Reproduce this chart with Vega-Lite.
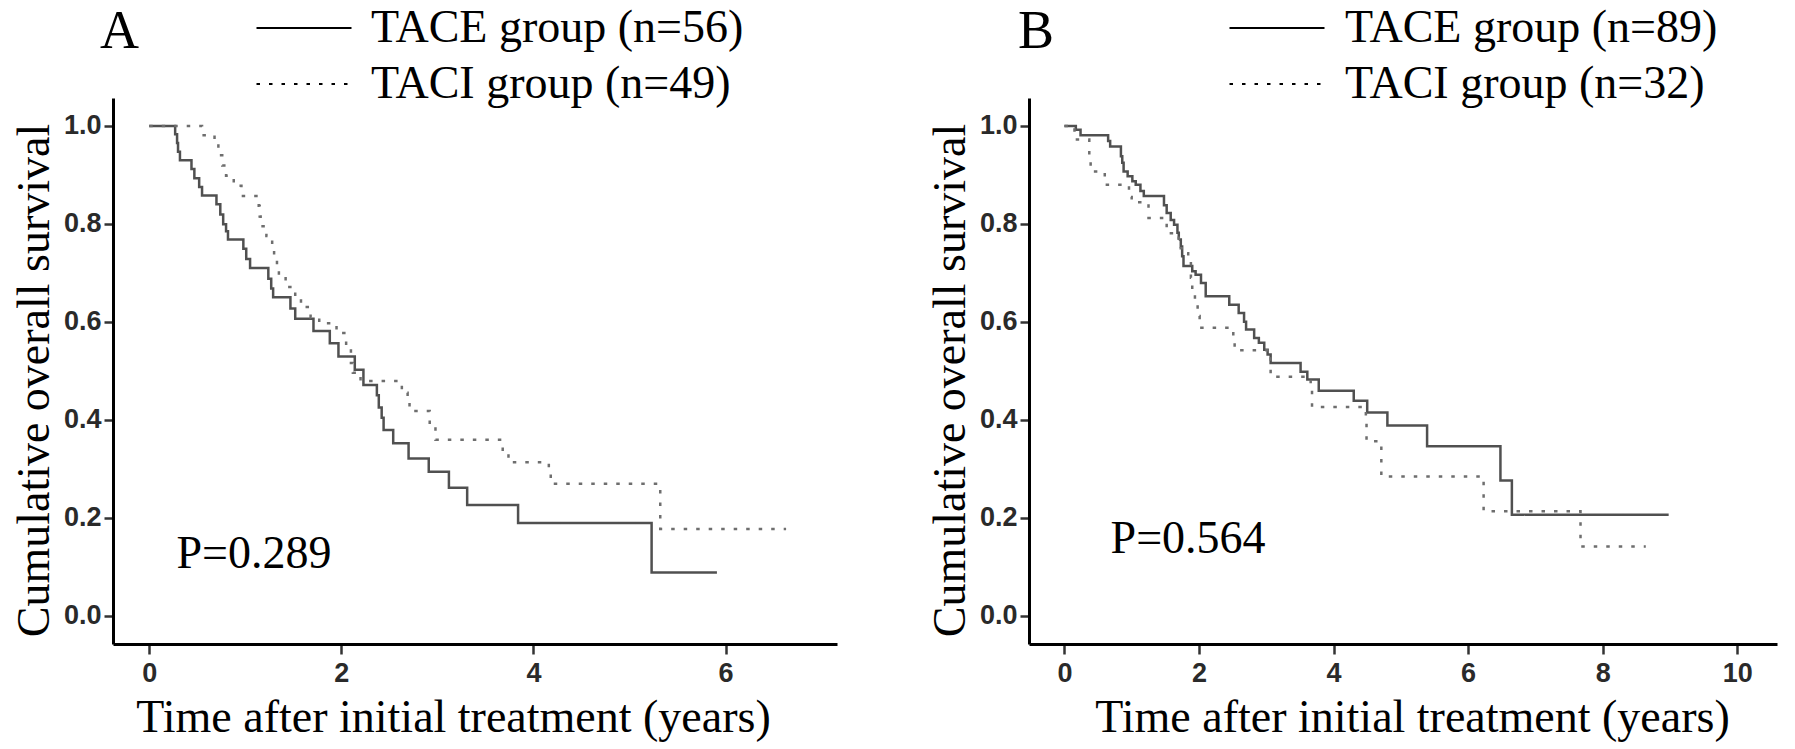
{
  "$schema": "https://vega.github.io/schema/vega-lite/v6.json",
  "background": "white",
  "padding": {"left": 11, "top": 5, "right": 4, "bottom": 2},
  "spacing": 90,
  "config": {
    "view": {"stroke": null},
    "axis": {
      "domainColor": "#000000",
      "domainWidth": 3,
      "tickColor": "#333333",
      "tickWidth": 2.5,
      "grid": false,
      "labelFont": "Liberation Sans",
      "labelFontSize": 27,
      "labelFontWeight": "bold",
      "labelColor": "#2a2a2a",
      "titleFont": "Liberation Serif",
      "titleFontSize": 46,
      "titleFontWeight": "normal",
      "titleColor": "#000000"
    },
    "axisX": {"tickSize": 10, "labelPadding": 6, "titlePadding": 9},
    "axisY": {"tickSize": 9, "labelPadding": 3, "titlePadding": 5},
    "title": {"font": "Liberation Serif", "fontSize": 54, "fontWeight": "normal", "color": "#000000", "anchor": "start", "frame": "group"}
  },
  "datasets": {
    "panelA": [
      {"group": "TACE group (n=56)", "t": 0, "S": 1},
      {"group": "TACE group (n=56)", "t": 0.27, "S": 0.983},
      {"group": "TACE group (n=56)", "t": 0.29, "S": 0.965},
      {"group": "TACE group (n=56)", "t": 0.30, "S": 0.947},
      {"group": "TACE group (n=56)", "t": 0.32, "S": 0.930},
      {"group": "TACE group (n=56)", "t": 0.44, "S": 0.912},
      {"group": "TACE group (n=56)", "t": 0.47, "S": 0.893},
      {"group": "TACE group (n=56)", "t": 0.52, "S": 0.875},
      {"group": "TACE group (n=56)", "t": 0.55, "S": 0.858},
      {"group": "TACE group (n=56)", "t": 0.70, "S": 0.840},
      {"group": "TACE group (n=56)", "t": 0.74, "S": 0.819},
      {"group": "TACE group (n=56)", "t": 0.77, "S": 0.799},
      {"group": "TACE group (n=56)", "t": 0.80, "S": 0.785},
      {"group": "TACE group (n=56)", "t": 0.82, "S": 0.768},
      {"group": "TACE group (n=56)", "t": 0.98, "S": 0.749},
      {"group": "TACE group (n=56)", "t": 1.01, "S": 0.728},
      {"group": "TACE group (n=56)", "t": 1.05, "S": 0.710},
      {"group": "TACE group (n=56)", "t": 1.24, "S": 0.688},
      {"group": "TACE group (n=56)", "t": 1.27, "S": 0.668},
      {"group": "TACE group (n=56)", "t": 1.29, "S": 0.650},
      {"group": "TACE group (n=56)", "t": 1.47, "S": 0.627},
      {"group": "TACE group (n=56)", "t": 1.52, "S": 0.606},
      {"group": "TACE group (n=56)", "t": 1.71, "S": 0.581},
      {"group": "TACE group (n=56)", "t": 1.88, "S": 0.556},
      {"group": "TACE group (n=56)", "t": 1.97, "S": 0.529},
      {"group": "TACE group (n=56)", "t": 2.14, "S": 0.502},
      {"group": "TACE group (n=56)", "t": 2.23, "S": 0.471},
      {"group": "TACE group (n=56)", "t": 2.37, "S": 0.450},
      {"group": "TACE group (n=56)", "t": 2.39, "S": 0.425},
      {"group": "TACE group (n=56)", "t": 2.42, "S": 0.404},
      {"group": "TACE group (n=56)", "t": 2.44, "S": 0.379},
      {"group": "TACE group (n=56)", "t": 2.54, "S": 0.352},
      {"group": "TACE group (n=56)", "t": 2.70, "S": 0.321},
      {"group": "TACE group (n=56)", "t": 2.91, "S": 0.294},
      {"group": "TACE group (n=56)", "t": 3.12, "S": 0.261},
      {"group": "TACE group (n=56)", "t": 3.31, "S": 0.226},
      {"group": "TACE group (n=56)", "t": 3.84, "S": 0.189},
      {"group": "TACE group (n=56)", "t": 5.23, "S": 0.088},
      {"group": "TACE group (n=56)", "t": 5.91, "S": 0.088},
      {"group": "TACI group (n=49)", "t": 0, "S": 1},
      {"group": "TACI group (n=49)", "t": 0.55, "S": 0.981},
      {"group": "TACI group (n=49)", "t": 0.68, "S": 0.960},
      {"group": "TACI group (n=49)", "t": 0.72, "S": 0.940},
      {"group": "TACI group (n=49)", "t": 0.76, "S": 0.919},
      {"group": "TACI group (n=49)", "t": 0.80, "S": 0.898},
      {"group": "TACI group (n=49)", "t": 0.88, "S": 0.878},
      {"group": "TACI group (n=49)", "t": 0.96, "S": 0.857},
      {"group": "TACI group (n=49)", "t": 1.14, "S": 0.837},
      {"group": "TACI group (n=49)", "t": 1.15, "S": 0.815},
      {"group": "TACI group (n=49)", "t": 1.16, "S": 0.795},
      {"group": "TACI group (n=49)", "t": 1.22, "S": 0.775},
      {"group": "TACI group (n=49)", "t": 1.28, "S": 0.754},
      {"group": "TACI group (n=49)", "t": 1.30, "S": 0.733},
      {"group": "TACI group (n=49)", "t": 1.33, "S": 0.712},
      {"group": "TACI group (n=49)", "t": 1.35, "S": 0.692},
      {"group": "TACI group (n=49)", "t": 1.42, "S": 0.671},
      {"group": "TACI group (n=49)", "t": 1.52, "S": 0.650},
      {"group": "TACI group (n=49)", "t": 1.58, "S": 0.630},
      {"group": "TACI group (n=49)", "t": 1.68, "S": 0.609},
      {"group": "TACI group (n=49)", "t": 1.77, "S": 0.597},
      {"group": "TACI group (n=49)", "t": 1.95, "S": 0.577},
      {"group": "TACI group (n=49)", "t": 2.05, "S": 0.546},
      {"group": "TACI group (n=49)", "t": 2.10, "S": 0.516},
      {"group": "TACI group (n=49)", "t": 2.12, "S": 0.496},
      {"group": "TACI group (n=49)", "t": 2.20, "S": 0.479},
      {"group": "TACI group (n=49)", "t": 2.63, "S": 0.455},
      {"group": "TACI group (n=49)", "t": 2.69, "S": 0.442},
      {"group": "TACI group (n=49)", "t": 2.71, "S": 0.418},
      {"group": "TACI group (n=49)", "t": 2.92, "S": 0.389},
      {"group": "TACI group (n=49)", "t": 2.98, "S": 0.359},
      {"group": "TACI group (n=49)", "t": 3.68, "S": 0.334},
      {"group": "TACI group (n=49)", "t": 3.74, "S": 0.313},
      {"group": "TACI group (n=49)", "t": 4.16, "S": 0.293},
      {"group": "TACI group (n=49)", "t": 4.18, "S": 0.269},
      {"group": "TACI group (n=49)", "t": 5.32, "S": 0.177},
      {"group": "TACI group (n=49)", "t": 6.63, "S": 0.177}
    ],
    "panelB": [
      {"group": "TACE group (n=89)", "t": 0, "S": 1},
      {"group": "TACE group (n=89)", "t": 0.17, "S": 0.992},
      {"group": "TACE group (n=89)", "t": 0.24, "S": 0.981},
      {"group": "TACE group (n=89)", "t": 0.65, "S": 0.969},
      {"group": "TACE group (n=89)", "t": 0.68, "S": 0.958},
      {"group": "TACE group (n=89)", "t": 0.84, "S": 0.938},
      {"group": "TACE group (n=89)", "t": 0.86, "S": 0.925},
      {"group": "TACE group (n=89)", "t": 0.88, "S": 0.907},
      {"group": "TACE group (n=89)", "t": 0.94, "S": 0.897},
      {"group": "TACE group (n=89)", "t": 1.01, "S": 0.887},
      {"group": "TACE group (n=89)", "t": 1.06, "S": 0.880},
      {"group": "TACE group (n=89)", "t": 1.13, "S": 0.867},
      {"group": "TACE group (n=89)", "t": 1.18, "S": 0.857},
      {"group": "TACE group (n=89)", "t": 1.48, "S": 0.838},
      {"group": "TACE group (n=89)", "t": 1.52, "S": 0.822},
      {"group": "TACE group (n=89)", "t": 1.58, "S": 0.808},
      {"group": "TACE group (n=89)", "t": 1.63, "S": 0.798},
      {"group": "TACE group (n=89)", "t": 1.68, "S": 0.782},
      {"group": "TACE group (n=89)", "t": 1.70, "S": 0.768},
      {"group": "TACE group (n=89)", "t": 1.73, "S": 0.754},
      {"group": "TACE group (n=89)", "t": 1.75, "S": 0.734},
      {"group": "TACE group (n=89)", "t": 1.77, "S": 0.714},
      {"group": "TACE group (n=89)", "t": 1.90, "S": 0.703},
      {"group": "TACE group (n=89)", "t": 1.95, "S": 0.696},
      {"group": "TACE group (n=89)", "t": 2.03, "S": 0.679},
      {"group": "TACE group (n=89)", "t": 2.10, "S": 0.652},
      {"group": "TACE group (n=89)", "t": 2.45, "S": 0.635},
      {"group": "TACE group (n=89)", "t": 2.59, "S": 0.618},
      {"group": "TACE group (n=89)", "t": 2.67, "S": 0.600},
      {"group": "TACE group (n=89)", "t": 2.70, "S": 0.584},
      {"group": "TACE group (n=89)", "t": 2.82, "S": 0.567},
      {"group": "TACE group (n=89)", "t": 2.89, "S": 0.557},
      {"group": "TACE group (n=89)", "t": 2.97, "S": 0.543},
      {"group": "TACE group (n=89)", "t": 3.02, "S": 0.533},
      {"group": "TACE group (n=89)", "t": 3.065, "S": 0.516},
      {"group": "TACE group (n=89)", "t": 3.51, "S": 0.498},
      {"group": "TACE group (n=89)", "t": 3.61, "S": 0.482},
      {"group": "TACE group (n=89)", "t": 3.78, "S": 0.459},
      {"group": "TACE group (n=89)", "t": 4.30, "S": 0.439},
      {"group": "TACE group (n=89)", "t": 4.50, "S": 0.415},
      {"group": "TACE group (n=89)", "t": 4.80, "S": 0.388},
      {"group": "TACE group (n=89)", "t": 5.39, "S": 0.346},
      {"group": "TACE group (n=89)", "t": 6.48, "S": 0.276},
      {"group": "TACE group (n=89)", "t": 6.65, "S": 0.206},
      {"group": "TACE group (n=89)", "t": 8.98, "S": 0.206},
      {"group": "TACI group (n=32)", "t": 0, "S": 1},
      {"group": "TACI group (n=32)", "t": 0.15, "S": 0.972},
      {"group": "TACI group (n=32)", "t": 0.37, "S": 0.940},
      {"group": "TACI group (n=32)", "t": 0.39, "S": 0.907},
      {"group": "TACI group (n=32)", "t": 0.60, "S": 0.880},
      {"group": "TACI group (n=32)", "t": 0.96, "S": 0.855},
      {"group": "TACI group (n=32)", "t": 1.00, "S": 0.844},
      {"group": "TACI group (n=32)", "t": 1.25, "S": 0.812},
      {"group": "TACI group (n=32)", "t": 1.52, "S": 0.781},
      {"group": "TACI group (n=32)", "t": 1.70, "S": 0.750},
      {"group": "TACI group (n=32)", "t": 1.78, "S": 0.740},
      {"group": "TACI group (n=32)", "t": 1.84, "S": 0.723},
      {"group": "TACI group (n=32)", "t": 1.88, "S": 0.690},
      {"group": "TACI group (n=32)", "t": 1.90, "S": 0.659},
      {"group": "TACI group (n=32)", "t": 1.94, "S": 0.635},
      {"group": "TACI group (n=32)", "t": 1.98, "S": 0.612},
      {"group": "TACI group (n=32)", "t": 2.01, "S": 0.588},
      {"group": "TACI group (n=32)", "t": 2.51, "S": 0.563},
      {"group": "TACI group (n=32)", "t": 2.53, "S": 0.542},
      {"group": "TACI group (n=32)", "t": 3.065, "S": 0.488},
      {"group": "TACI group (n=32)", "t": 3.66, "S": 0.460},
      {"group": "TACI group (n=32)", "t": 3.68, "S": 0.426},
      {"group": "TACI group (n=32)", "t": 4.48, "S": 0.395},
      {"group": "TACI group (n=32)", "t": 4.49, "S": 0.356},
      {"group": "TACI group (n=32)", "t": 4.71, "S": 0.284},
      {"group": "TACI group (n=32)", "t": 6.23, "S": 0.213},
      {"group": "TACI group (n=32)", "t": 7.67, "S": 0.141},
      {"group": "TACI group (n=32)", "t": 8.64, "S": 0.141}
    ]
  },
  "hconcat": [
    {
      "width": 724,
      "height": 546,
      "title": {"text": "A", "dx": -13, "offset": -54},
      "layer": [
        {
          "data": {"name": "panelA"},
          "mark": {"type": "line", "interpolate": "step-after", "strokeWidth": 2.5},
          "encoding": {
            "x": {"field": "t", "type": "quantitative", "scale": {"domain": [-0.377, 7.16], "nice": false, "zero": false},
                  "axis": {"values": [0, 2, 4, 6], "format": "d", "title": "Time after initial treatment (years)", "titleX": 340}},
            "y": {"field": "S", "type": "quantitative", "scale": {"domain": [-0.058, 1.057], "nice": false, "zero": false},
                  "axis": {"values": [0, 0.2, 0.4, 0.6, 0.8, 1], "format": ".1f", "title": "Cumulative overall survival", "titleY": 282}},
            "color": {"field": "group", "type": "nominal", "scale": {"range": ["#505050", "#6e6e6e"]}, "legend": null},
            "strokeDash": {"field": "group", "type": "nominal",
              "scale": {"domain": ["TACE group (n=56)", "TACI group (n=49)"], "range": [[1, 0], [3.5, 9]]},
              "legend": {"title": null, "orient": "none", "legendX": 168, "legendY": -93, "padding": 0,
                "labelFont": "Liberation Serif", "labelFontSize": 46, "labelColor": "#000000", "labelLimit": 0,
                "symbolType": "M-2.5,0H2.5", "symbolSize": 1444, "symbolStrokeWidth": 2, "symbolStrokeColor": "#000000",
                "labelOffset": 44, "rowPadding": 10,
                "encode": {"symbols": {"update": {"stroke": {"value": "#000000"}, "strokeDash": {"signal": "indexof(datum.value, 'TACE') === 0 ? [1,0] : [7,4.7]"}}}}}
            }
          }
        },
        {
          "data": {"values": [{"label": "P=0.289"}]},
          "mark": {"type": "text", "font": "Liberation Serif", "fontSize": 46, "align": "left", "baseline": "alphabetic", "color": "#000000"},
          "encoding": {"x": {"datum": 0.283}, "y": {"datum": 0.098}, "text": {"field": "label"}}
        }
      ]
    },
    {
      "width": 748,
      "height": 546,
      "title": {"text": "B", "dx": -11, "offset": -54},
      "layer": [
        {
          "data": {"name": "panelB"},
          "mark": {"type": "line", "interpolate": "step-after", "strokeWidth": 2.5},
          "encoding": {
            "x": {"field": "t", "type": "quantitative", "scale": {"domain": [-0.526, 10.59], "nice": false, "zero": false},
                  "axis": {"values": [0, 2, 4, 6, 8, 10], "format": "d", "title": "Time after initial treatment (years)", "titleX": 383}},
            "y": {"field": "S", "type": "quantitative", "scale": {"domain": [-0.058, 1.057], "nice": false, "zero": false},
                  "axis": {"values": [0, 0.2, 0.4, 0.6, 0.8, 1], "format": ".1f", "title": "Cumulative overall survival", "titleY": 282}},
            "color": {"field": "group", "type": "nominal", "scale": {"range": ["#505050", "#6e6e6e"]}, "legend": null},
            "strokeDash": {"field": "group", "type": "nominal",
              "scale": {"domain": ["TACE group (n=89)", "TACI group (n=32)"], "range": [[1, 0], [3.5, 9]]},
              "legend": {"title": null, "orient": "none", "legendX": 225, "legendY": -93, "padding": 0,
                "labelFont": "Liberation Serif", "labelFontSize": 46, "labelColor": "#000000", "labelLimit": 0,
                "symbolType": "M-2.5,0H2.5", "symbolSize": 1444, "symbolStrokeWidth": 2, "symbolStrokeColor": "#000000",
                "labelOffset": 45, "rowPadding": 10,
                "encode": {"symbols": {"update": {"stroke": {"value": "#000000"}, "strokeDash": {"signal": "indexof(datum.value, 'TACE') === 0 ? [1,0] : [7,4.7]"}}}}}
            }
          }
        },
        {
          "data": {"values": [{"label": "P=0.564"}]},
          "mark": {"type": "text", "font": "Liberation Serif", "fontSize": 46, "align": "left", "baseline": "alphabetic", "color": "#000000"},
          "encoding": {"x": {"datum": 0.686}, "y": {"datum": 0.128}, "text": {"field": "label"}}
        }
      ]
    }
  ],
  "resolve": {"scale": {"x": "independent", "strokeDash": "independent", "color": "independent"}, "legend": {"strokeDash": "independent"}}
}
